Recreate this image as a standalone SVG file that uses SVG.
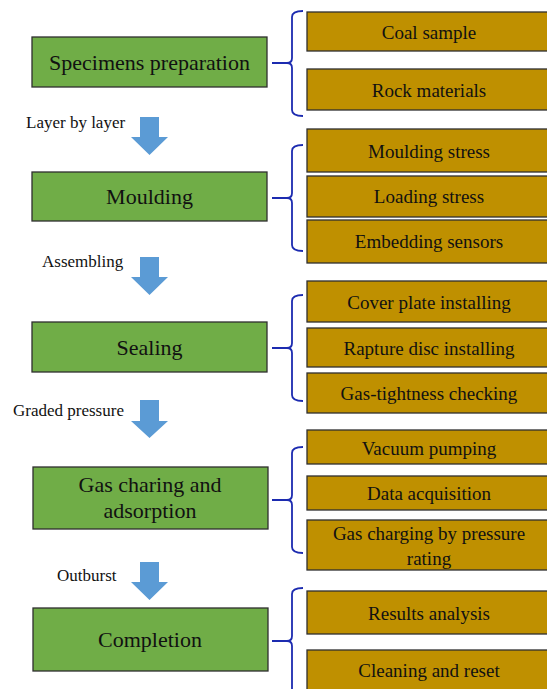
<svg xmlns="http://www.w3.org/2000/svg" width="547" height="689" viewBox="0 0 547 689">
<defs>
<style>
.step{fill:#70AD47;stroke:#2f2f2f;stroke-width:1.3}
.sub{fill:#BF9000;stroke:#2f2f2f;stroke-width:1.3}
text{font-family:'Liberation Serif','Times New Roman',Times,'DejaVu Serif',serif;fill:#111}
.t{text-anchor:middle}
.big{font-size:22px}
.small{font-size:19px}
.lab{font-size:17px}
.arrow{fill:#5B9BD5}
.brace{fill:none;stroke:#1C2BB0;stroke-width:1.8;stroke-linejoin:round}
</style>
</defs>
<rect width="547" height="689" fill="#ffffff"/>

<g id="connectors">
<polygon class="arrow" points="140,117 159,117 159,137 168,137 149.5,155 131,137 140,137"/>
<polygon class="arrow" points="140,257 159,257 159,277 168,277 149.5,295 131,277 140,277"/>
<polygon class="arrow" points="140,400 159,400 159,421 168,421 149.5,438 131,421 140,421"/>
<polygon class="arrow" points="140,562 159,562 159,582 168,582 149.5,600 131,582 140,582"/>
<path class="brace" d="M303,11 Q292,11 292,17 L292,58 Q292,63 287,63 L272,63 M287,63 Q292,63 292,68 L292,110 Q292,116 303,116"/>
<path class="brace" d="M303,145 Q292,145 292,151 L292,193 Q292,198 287,198 L272,198 M287,198 Q292,198 292,203 L292,245 Q292,251 303,251"/>
<path class="brace" d="M303,295 Q292,295 292,301 L292,343 Q292,348 287,348 L272,348 M287,348 Q292,348 292,353 L292,395 Q292,401 303,401"/>
<path class="brace" d="M303,447 Q292,447 292,453 L292,495 Q292,500 287,500 L272,500 M287,500 Q292,500 292,505 L292,547 Q292,553 303,553"/>
<path class="brace" d="M303,588 Q292,588 292,594 L292,636 Q292,641 287,641 L272,641 M287,641 Q292,641 292,646 L292,694"/>
<text class="lab" x="26" y="128">Layer by layer</text>
<text class="lab" x="42" y="267">Assembling</text>
<text class="lab" x="13" y="416">Graded pressure</text>
<text class="lab" x="57" y="581">Outburst</text>
</g>

<g id="specimens">
<rect class="step" x="32" y="37" width="235" height="50"/>
<text class="t big" x="149.5" y="70">Specimens preparation</text>
</g>
<g id="coal">
<rect class="sub" x="307" y="12" width="244" height="39"/>
<text class="t small" x="429" y="39">Coal sample</text>
</g>
<g id="rock">
<rect class="sub" x="307" y="69" width="244" height="41"/>
<text class="t small" x="429" y="97">Rock materials</text>
</g>

<g id="moulding">
<rect class="step" x="32" y="172" width="235" height="49"/>
<text class="t big" x="149.5" y="204">Moulding</text>
</g>
<g id="moulding-stress">
<rect class="sub" x="307" y="129" width="244" height="43"/>
<text class="t small" x="429" y="158">Moulding stress</text>
</g>
<g id="loading-stress">
<rect class="sub" x="307" y="176" width="244" height="41"/>
<text class="t small" x="429" y="203">Loading stress</text>
</g>
<g id="embedding">
<rect class="sub" x="307" y="220" width="244" height="43"/>
<text class="t small" x="429" y="248">Embedding sensors</text>
</g>

<g id="sealing">
<rect class="step" x="32" y="322" width="235" height="50"/>
<text class="t big" x="149.5" y="355">Sealing</text>
</g>
<g id="cover-plate">
<rect class="sub" x="307" y="281" width="244" height="41"/>
<text class="t small" x="429" y="309">Cover plate installing</text>
</g>
<g id="rapture-disc">
<rect class="sub" x="307" y="328" width="244" height="39"/>
<text class="t small" x="429" y="355">Rapture disc installing</text>
</g>
<g id="gas-tightness">
<rect class="sub" x="307" y="373" width="244" height="40"/>
<text class="t small" x="429" y="400">Gas-tightness checking</text>
</g>

<g id="gas-charging">
<rect class="step" x="33" y="467" width="235" height="62"/>
<text class="t big" x="150" y="492">Gas charing and</text>
<text class="t big" x="150" y="518">adsorption</text>
</g>
<g id="vacuum">
<rect class="sub" x="307" y="430" width="244" height="34"/>
<text class="t small" x="429" y="455">Vacuum pumping</text>
</g>
<g id="data-acq">
<rect class="sub" x="307" y="476" width="244" height="34"/>
<text class="t small" x="429" y="500">Data acquisition</text>
</g>
<g id="gas-rating">
<rect class="sub" x="307" y="520" width="244" height="50"/>
<text class="t small" x="429" y="540">Gas charging by pressure</text>
<text class="t small" x="429" y="565">rating</text>
</g>

<g id="completion">
<rect class="step" x="33" y="608" width="235" height="63"/>
<text class="t big" x="150" y="647">Completion</text>
</g>
<g id="results">
<rect class="sub" x="307" y="591" width="244" height="43"/>
<text class="t small" x="429" y="620">Results analysis</text>
</g>
<g id="cleaning">
<rect class="sub" x="307" y="650" width="244" height="45"/>
<text class="t small" x="429" y="677">Cleaning and reset</text>
</g>
</svg>
